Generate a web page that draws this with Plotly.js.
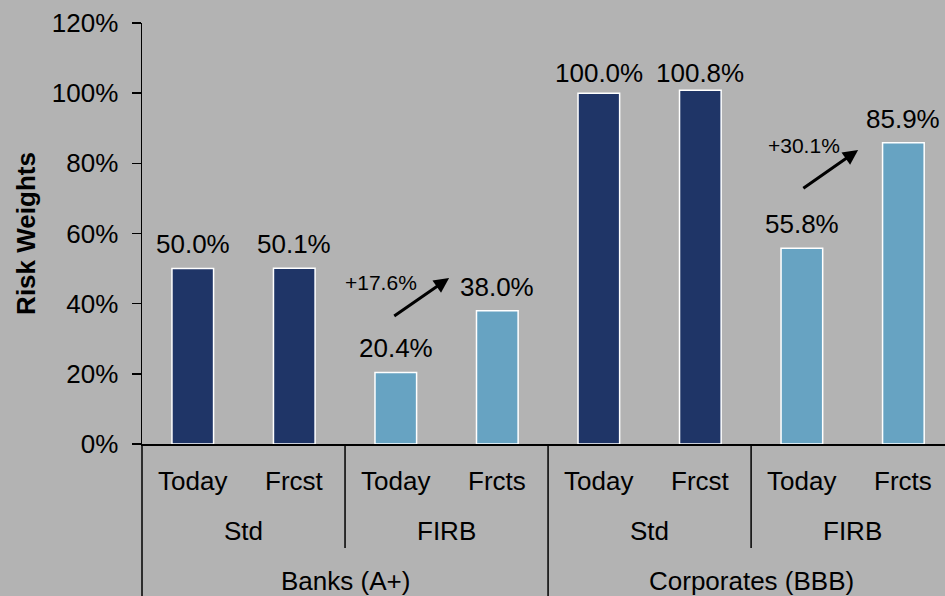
<!DOCTYPE html>
<html>
<head>
<meta charset="utf-8">
<script src="https://cdn.plot.ly/plotly-3.0.1.min.js"></script>
<style>html,body{margin:0;padding:0;background:#b3b3b3;}#chart{width:945px;height:596px;}</style>
</head>
<body>
<div id="chart"></div>
<script>
// ---- data ----
var groups = ['Banks (A+)', 'Corporates (BBB)'];
var methods = ['Std', 'FIRB', 'Std', 'FIRB'];
var periods = ['Today', 'Frcst', 'Today', 'Frcts', 'Today', 'Frcst', 'Today', 'Frcts'];
var values = [50.0, 50.1, 20.4, 38.0, 100.0, 100.8, 55.8, 85.9];
var yTickVals = [0, 20, 40, 60, 80, 100, 120];
var yTickText = ['0%', '20%', '40%', '60%', '80%', '100%', '120%'];
// arrow pairs (FIRB Today -> FIRB Forecast), indices into values
var changePairs = [[2, 3], [6, 7]];

// ---- styling / annotation geometry (offsets relative to the "Today" bar) ----
var FONT = 'Arial, "Liberation Sans", sans-serif';
var FS = 26;
var NAVY = '#1f3567';
var LIGHT = '#67a3c2';
var BG = '#b3b3b3';
var arrowGeom = [
  { tx: -0.03, ty: 15.8, hx: 0.525, hy: 26.9, lx: -0.15, ly: 25.6 },
  { tx: 0.0, ty: 16.8, hx: 0.554, hy: 28.0, lx: 0.017, ly: 29.4 }
];
var r0 = -0.5, r1 = 7.41;
function px(d) { return (d - r0) / (r1 - r0); }

var xs = periods.map(function (_, i) { return i; });
var colors = periods.map(function (_, i) { return methods[Math.floor(i / 2)] === 'Std' ? NAVY : LIGHT; });

var trace = {
  type: 'bar',
  x: xs,
  y: values,
  width: 0.41,
  marker: { color: colors, line: { color: '#ffffff', width: 1.5 } },
  hoverinfo: 'skip'
};

var annotations = [];
// value labels
values.forEach(function (v, i) {
  annotations.push({
    x: i, y: Math.min(v + 4.6, 103.4), xref: 'x', yref: 'y',
    text: v.toFixed(1) + '%', showarrow: false,
    xanchor: 'center', yanchor: 'bottom', yshift: -9,
    font: { family: FONT, size: FS, color: '#000' }
  });
});
// level 1 labels
periods.forEach(function (p, i) {
  annotations.push({
    x: px(i), y: (444 - 481) / 421, xref: 'paper', yref: 'paper',
    text: p, showarrow: false, xanchor: 'center', yanchor: 'middle',
    font: { family: FONT, size: FS, color: '#000' }
  });
});
// level 2 labels
methods.forEach(function (m, j) {
  annotations.push({
    x: px(2 * j + 0.5), y: (444 - 531) / 421, xref: 'paper', yref: 'paper',
    text: m, showarrow: false, xanchor: 'center', yanchor: 'middle',
    font: { family: FONT, size: FS, color: '#000' }
  });
});
// level 3 labels
groups.forEach(function (g, k) {
  annotations.push({
    x: px(4 * k + 1.5), y: (444 - 581) / 421, xref: 'paper', yref: 'paper',
    text: g, showarrow: false, xanchor: 'center', yanchor: 'middle',
    font: { family: FONT, size: FS, color: '#000' }
  });
});
// change arrows and labels
changePairs.forEach(function (pr, k) {
  var a = pr[0], b = pr[1];
  var lo = values[a], hi = values[b];
  var g = arrowGeom[k];
  annotations.push({
    x: a + g.hx, y: lo + g.hy, ax: a + g.tx, ay: lo + g.ty,
    xref: 'x', yref: 'y', axref: 'x', ayref: 'y',
    showarrow: true, arrowhead: 2, arrowsize: 1, arrowwidth: 3, arrowcolor: '#000', text: ''
  });
  annotations.push({
    x: a + g.lx, y: lo + g.ly, xref: 'x', yref: 'y', showarrow: false,
    text: '+' + (hi - lo).toFixed(1) + '%', xanchor: 'center', yanchor: 'middle',
    font: { family: FONT, size: 21, color: '#000' }
  });
});

var shapes = [];
[[-0.5, -0.361], [1.5, -0.247], [3.5, -0.361], [5.5, -0.247]].forEach(function (s) {
  shapes.push({
    type: 'line', xref: 'paper', yref: 'paper',
    x0: px(s[0]), x1: px(s[0]), y0: 0, y1: s[1],
    line: { color: '#000', width: 1.5 }
  });
});

var layout = {
  width: 945, height: 596,
  paper_bgcolor: BG, plot_bgcolor: BG,
  margin: { l: 142, r: 0, t: 23, b: 152 },
  showlegend: false,
  font: { family: FONT, size: FS, color: '#000' },
  xaxis: {
    range: [r0, r1], showticklabels: false, ticks: '', showgrid: false, zeroline: false,
    showline: true, linecolor: '#000', linewidth: 1.5, fixedrange: true
  },
  yaxis: {
    range: [0, 120], tickvals: yTickVals, ticktext: yTickText,
    ticks: 'outside', ticklen: 9, tickwidth: 1.5, tickcolor: '#000',
    showline: true, linecolor: '#000', linewidth: 1.5,
    showgrid: false, zeroline: false, ticklabelstandoff: 8,
    tickfont: { family: FONT, size: FS, color: '#000' },
    title: { text: '<b>Risk Weights</b>', standoff: 8, font: { family: FONT, size: FS, color: '#000' } },
    automargin: false, fixedrange: true
  },
  annotations: annotations,
  shapes: shapes
};

Plotly.newPlot('chart', [trace], layout, { displayModeBar: false, staticPlot: true });
</script>
</body>
</html>
